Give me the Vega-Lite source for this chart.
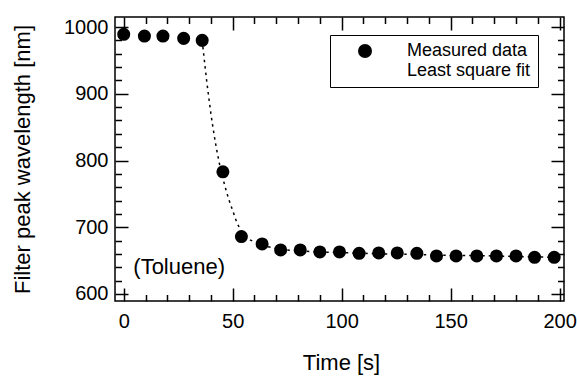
{
  "$schema": "https://vega.github.io/schema/vega-lite/v6.json",
  "width": 449,
  "height": 284,
  "autosize": {"type": "none"},
  "padding": {"left": 115, "top": 17, "right": 13, "bottom": 75},
  "background": "white",
  "config": {
    "font": "Liberation Sans",
    "view": {"stroke": "black", "strokeWidth": 1.5},
    "axis": {
      "grid": false,
      "domain": false,
      "tickColor": "black",
      "tickWidth": 1.5,
      "labelColor": "black",
      "labelFontSize": 20,
      "labelFont": "Liberation Sans",
      "titleFontSize": 22,
      "titleFont": "Liberation Sans",
      "titleFontWeight": "normal",
      "titleColor": "black"
    },
    "legend": {
      "orient": "none", "title": null,
      "labelFont": "Liberation Sans", "labelColor": "black"
    }
  },
  "datasets": {
    "measured": [
      {"t": 0, "v": 989, "series": "Measured data"},
      {"t": 9.5, "v": 986.5, "series": "Measured data"},
      {"t": 18, "v": 986.5, "series": "Measured data"},
      {"t": 27.5, "v": 983, "series": "Measured data"},
      {"t": 36, "v": 980, "series": "Measured data"},
      {"t": 45.5, "v": 783, "series": "Measured data"},
      {"t": 54, "v": 686, "series": "Measured data"},
      {"t": 63.5, "v": 675, "series": "Measured data"},
      {"t": 72, "v": 666, "series": "Measured data"},
      {"t": 81, "v": 666, "series": "Measured data"},
      {"t": 90, "v": 663, "series": "Measured data"},
      {"t": 99, "v": 663, "series": "Measured data"},
      {"t": 108, "v": 661, "series": "Measured data"},
      {"t": 117, "v": 661.5, "series": "Measured data"},
      {"t": 125.5, "v": 661.5, "series": "Measured data"},
      {"t": 134.5, "v": 661, "series": "Measured data"},
      {"t": 143.5, "v": 657, "series": "Measured data"},
      {"t": 152.5, "v": 657, "series": "Measured data"},
      {"t": 162, "v": 657, "series": "Measured data"},
      {"t": 171, "v": 657, "series": "Measured data"},
      {"t": 180, "v": 657, "series": "Measured data"},
      {"t": 188.5, "v": 655, "series": "Measured data"},
      {"t": 197.5, "v": 655, "series": "Measured data"}
    ],
    "fit": [
      {"t": 36, "v": 980, "series": "Least square fit"}, {"t": 37, "v": 950, "series": "Least square fit"},
      {"t": 38, "v": 921, "series": "Least square fit"}, {"t": 39, "v": 895, "series": "Least square fit"},
      {"t": 40, "v": 870, "series": "Least square fit"}, {"t": 41, "v": 848, "series": "Least square fit"},
      {"t": 42, "v": 828, "series": "Least square fit"}, {"t": 43, "v": 810, "series": "Least square fit"},
      {"t": 44, "v": 794, "series": "Least square fit"}, {"t": 45, "v": 780, "series": "Least square fit"},
      {"t": 46, "v": 767, "series": "Least square fit"}, {"t": 47, "v": 755, "series": "Least square fit"},
      {"t": 48, "v": 744, "series": "Least square fit"}, {"t": 49, "v": 734, "series": "Least square fit"},
      {"t": 50, "v": 725, "series": "Least square fit"}, {"t": 52, "v": 706, "series": "Least square fit"},
      {"t": 54, "v": 694, "series": "Least square fit"}, {"t": 56, "v": 686, "series": "Least square fit"},
      {"t": 58, "v": 681, "series": "Least square fit"}, {"t": 60, "v": 678, "series": "Least square fit"},
      {"t": 63, "v": 675, "series": "Least square fit"}, {"t": 66, "v": 671, "series": "Least square fit"},
      {"t": 70, "v": 668, "series": "Least square fit"}, {"t": 75, "v": 666, "series": "Least square fit"},
      {"t": 81, "v": 664.5, "series": "Least square fit"}, {"t": 90, "v": 663, "series": "Least square fit"},
      {"t": 100, "v": 662, "series": "Least square fit"}, {"t": 110, "v": 661, "series": "Least square fit"},
      {"t": 120, "v": 660, "series": "Least square fit"}, {"t": 130, "v": 659.5, "series": "Least square fit"},
      {"t": 140, "v": 658.5, "series": "Least square fit"}, {"t": 150, "v": 658, "series": "Least square fit"},
      {"t": 160, "v": 657.5, "series": "Least square fit"}, {"t": 170, "v": 657, "series": "Least square fit"},
      {"t": 180, "v": 656, "series": "Least square fit"}, {"t": 190, "v": 655.5, "series": "Least square fit"},
      {"t": 198, "v": 655, "series": "Least square fit"}
    ],
    "note": [{"t": 4.4, "v": 630, "label": "(Toluene)"}]
  },
  "layer": [
    {
      "data": {"name": "fit"},
      "mark": {"type": "line", "color": "black", "strokeWidth": 1.5},
      "encoding": {
        "x": {
          "field": "t", "type": "quantitative",
          "scale": {"domain": [-4, 202], "nice": false, "zero": false},
          "axis": {
            "orient": "bottom", "values": [0, 50, 100, 150, 200], "tickSize": -13, "format": "d",
            "labelPadding": 23.5, "title": "Time [s]", "titleX": 226, "titleY": 68,
            "titleBaseline": "alphabetic", "titleAlign": "center", "labelFlush": false
          }
        },
        "y": {
          "field": "v", "type": "quantitative",
          "scale": {"domain": [589.5, 1015], "nice": false, "zero": false},
          "axis": {
            "orient": "left", "values": [600, 700, 800, 900, 1000], "tickSize": -13, "format": "d",
            "labelPadding": 20, "title": "Filter peak wavelength [nm]", "titleAngle": -90,
            "titleX": -93, "titleY": 142, "titleBaseline": "middle", "titleAlign": "center"
          }
        },
        "strokeDash": {
          "field": "series", "type": "nominal",
          "scale": {"domain": ["Least square fit"], "range": [[2.5, 4]]},
          "legend": {
            "orient": "none", "legendX": 242, "legendY": 47, "title": null,
            "padding": 0, "strokeColor": "transparent", "fillColor": "transparent",
            "symbolType": "M-3.86,0L3.86,0", "symbolSize": 196, "symbolStrokeWidth": 1.5,
            "symbolStrokeColor": "black", "symbolOffset": 0,
            "labelFontSize": 16, "labelColor": "transparent", "labelOffset": 0
          }
        }
      }
    },
    {
      "data": {"name": "measured"},
      "mark": {"type": "point", "filled": true, "size": 170, "opacity": 1, "color": "black"},
      "encoding": {
        "x": {
          "field": "t", "type": "quantitative",
          "axis": {"orient": "top", "values": [0, 50, 100, 150, 200], "tickSize": -13, "labels": false, "title": null}
        },
        "y": {
          "field": "v", "type": "quantitative",
          "axis": {"orient": "right", "values": [600, 700, 800, 900, 1000], "tickSize": -13, "labels": false, "title": null}
        },
        "shape": {
          "field": "series", "type": "nominal",
          "scale": {"domain": ["Measured data", "Least square fit"], "range": ["circle", "M-3.86,0L3.86,0"]},
          "legend": {
            "orient": "none", "legendX": 215, "legendY": 18, "title": null,
            "padding": 7, "strokeColor": "black", "fillColor": "white",
            "labelFontSize": 18, "labelColor": "black",
            "symbolSize": 196, "symbolOffset": 19, "labelOffset": 33, "rowPadding": 1
          }
        }
      }
    },
    {
      "data": {"name": "measured"},
      "mark": {"type": "point", "opacity": 0},
      "encoding": {
        "x": {
          "field": "t", "type": "quantitative",
          "axis": {"orient": "bottom", "values": [10, 20, 30, 40, 60, 70, 80, 90, 110, 120, 130, 140, 160, 170, 180, 190], "tickSize": -6.5, "labels": false, "title": null}
        },
        "y": {
          "field": "v", "type": "quantitative",
          "axis": {"orient": "left", "values": [620, 640, 660, 680, 720, 740, 760, 780, 820, 840, 860, 880, 920, 940, 960, 980], "tickSize": -6.5, "labels": false, "title": null}
        }
      }
    },
    {
      "data": {"name": "measured"},
      "mark": {"type": "point", "opacity": 0},
      "encoding": {
        "x": {
          "field": "t", "type": "quantitative",
          "axis": {"orient": "top", "values": [10, 20, 30, 40, 60, 70, 80, 90, 110, 120, 130, 140, 160, 170, 180, 190], "tickSize": -6.5, "labels": false, "title": null}
        },
        "y": {
          "field": "v", "type": "quantitative",
          "axis": {"orient": "right", "values": [620, 640, 660, 680, 720, 740, 760, 780, 820, 840, 860, 880, 920, 940, 960, 980], "tickSize": -6.5, "labels": false, "title": null}
        }
      }
    },
    {
      "data": {"name": "note"},
      "mark": {"type": "text", "align": "left", "baseline": "alphabetic", "fontSize": 22, "font": "Liberation Sans", "color": "black"},
      "encoding": {
        "x": {"field": "t", "type": "quantitative", "axis": null},
        "y": {"field": "v", "type": "quantitative", "axis": null},
        "text": {"field": "label"}
      }
    }
  ],
  "resolve": {"axis": {"x": "independent", "y": "independent"}}
}
